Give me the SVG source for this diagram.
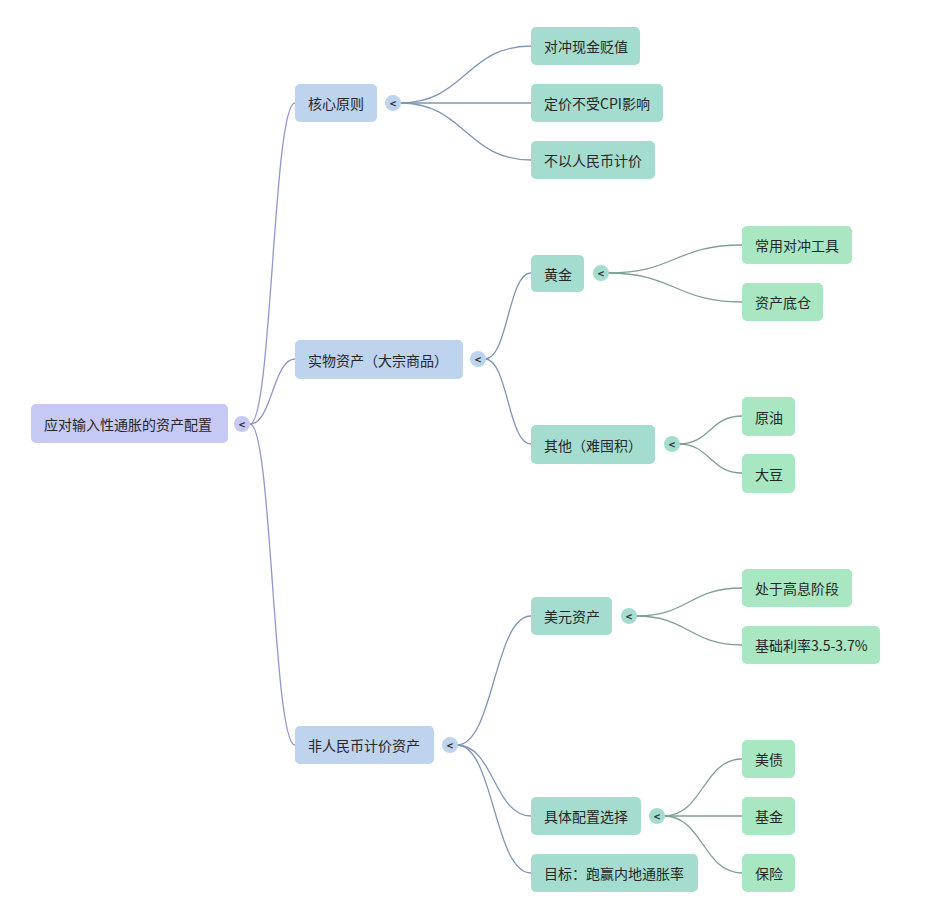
<svg xmlns="http://www.w3.org/2000/svg" width="931" height="907" viewBox="0 0 931 907">
<style>
text{font-family:"Noto Sans CJK SC","Noto Sans",sans-serif;font-size:14px;fill:#262626;dominant-baseline:central}
.root rect{fill:#c6c9f4}
.l1 rect{fill:#bdd3ee}
.l2 rect{fill:#a4ddcf}
.l3 rect{fill:#a9e6c2}
.c0{fill:#c6c9f4}
.c1{fill:#bdd3ee}
.c2{fill:#a4ddcf}
.tg{font-size:11px;font-weight:bold;text-anchor:middle;fill:#333}
#connectors path{fill:none;stroke-width:1.3}
.e0{stroke:#9096cf}
.e1{stroke:#7d97b5}
.e2{stroke:#7f9f96}
</style>
<rect width="931" height="907" fill="#ffffff"/>
<g id="connectors">
<path class="e0" d="M250,424 C272,424 273,103 295,103"/>
<path class="e0" d="M250,424 C272,424 273,359 295,359"/>
<path class="e0" d="M250,424 C272,424 273,745 295,745"/>
<path class="e1" d="M400,103 C465,103 466,46 531,46"/>
<path class="e1" d="M400,103 L531,103"/>
<path class="e1" d="M400,103 C465,103 466,160 531,160"/>
<path class="e1" d="M485,359 C508,359 508,273 531,273"/>
<path class="e1" d="M485,359 C508,359 508,444 531,444"/>
<path class="e1" d="M457,745 C494,745 494,616 531,616"/>
<path class="e1" d="M457,745 C494,745 494,816 531,816"/>
<path class="e1" d="M457,745 C494,745 494,873 531,873"/>
<path class="e2" d="M608,273 C675,273 675,245 742,245"/>
<path class="e2" d="M608,273 C675,273 675,302 742,302"/>
<path class="e2" d="M679,444 C710,444 710,416 742,416"/>
<path class="e2" d="M679,444 C710,444 710,473 742,473"/>
<path class="e2" d="M636,616 C689,616 689,588 742,588"/>
<path class="e2" d="M636,616 C689,616 689,645 742,645"/>
<path class="e2" d="M664,816 C703,816 703,759 742,759"/>
<path class="e2" d="M664,816 L742,816"/>
<path class="e2" d="M664,816 C703,816 703,873 742,873"/>
</g>
<g id="root" class="root"><rect x="31" y="404" width="197" height="39" rx="5"/><text x="44" y="423.5">应对输入性通胀的资产配置</text></g>
<g id="root-toggle"><circle class="c0" cx="242" cy="424" r="8"/><text class="tg" x="242" y="424">&lt;</text></g>
<g id="n-core" class="l1"><rect x="295" y="84" width="82" height="38" rx="5"/><text x="308" y="103">核心原则</text></g>
<g id="n-core-toggle"><circle class="c1" cx="393" cy="103" r="8"/><text class="tg" x="393" y="103">&lt;</text></g>
<g id="n-phys" class="l1"><rect x="295" y="340" width="168" height="39" rx="5"/><text x="308" y="359.5">实物资产（大宗商品）</text></g>
<g id="n-phys-toggle"><circle class="c1" cx="478" cy="359" r="8"/><text class="tg" x="478" y="359">&lt;</text></g>
<g id="n-nonrmb" class="l1"><rect x="295" y="726" width="139" height="38" rx="5"/><text x="308" y="745">非人民币计价资产</text></g>
<g id="n-nonrmb-toggle"><circle class="c1" cx="450" cy="745" r="8"/><text class="tg" x="450" y="745">&lt;</text></g>
<g id="n-hedge" class="l2"><rect x="531" y="27" width="109" height="38" rx="5"/><text x="544" y="46">对冲现金贬值</text></g>
<g id="n-cpi" class="l2"><rect x="531" y="84" width="132" height="38" rx="5"/><text x="544" y="103">定价不受CPI影响</text></g>
<g id="n-notrmb" class="l2"><rect x="531" y="141" width="124" height="38" rx="5"/><text x="544" y="160">不以人民币计价</text></g>
<g id="n-gold" class="l2"><rect x="531" y="255" width="53" height="37" rx="5"/><text x="544" y="273.5">黄金</text></g>
<g id="n-gold-toggle"><circle class="c2" cx="601" cy="273" r="8"/><text class="tg" x="601" y="273">&lt;</text></g>
<g id="n-other" class="l2"><rect x="531" y="425" width="124" height="39" rx="5"/><text x="544" y="444.5">其他（难囤积）</text></g>
<g id="n-other-toggle"><circle class="c2" cx="672" cy="444" r="8"/><text class="tg" x="672" y="444">&lt;</text></g>
<g id="n-usd" class="l2"><rect x="531" y="597" width="81" height="38" rx="5"/><text x="544" y="616">美元资产</text></g>
<g id="n-usd-toggle"><circle class="c2" cx="629" cy="616" r="8"/><text class="tg" x="629" y="616">&lt;</text></g>
<g id="n-choice" class="l2"><rect x="531" y="797" width="110" height="38" rx="5"/><text x="544" y="816">具体配置选择</text></g>
<g id="n-choice-toggle"><circle class="c2" cx="657" cy="816" r="8"/><text class="tg" x="657" y="816">&lt;</text></g>
<g id="n-goal" class="l2"><rect x="531" y="854" width="167" height="38" rx="5"/><text x="544" y="873">目标：跑赢内地通胀率</text></g>
<g id="n-tool" class="l3"><rect x="742" y="226" width="110" height="38" rx="5"/><text x="755" y="245">常用对冲工具</text></g>
<g id="n-base" class="l3"><rect x="742" y="283" width="81" height="38" rx="5"/><text x="755" y="302">资产底仓</text></g>
<g id="n-oil" class="l3"><rect x="742" y="397" width="53" height="39" rx="5"/><text x="755" y="416.5">原油</text></g>
<g id="n-soy" class="l3"><rect x="742" y="454" width="53" height="39" rx="5"/><text x="755" y="473.5">大豆</text></g>
<g id="n-high" class="l3"><rect x="742" y="569" width="110" height="38" rx="5"/><text x="755" y="588">处于高息阶段</text></g>
<g id="n-rate" class="l3"><rect x="742" y="626" width="138" height="38" rx="5"/><text x="755" y="645">基础利率3.5-3.7%</text></g>
<g id="n-ust" class="l3"><rect x="742" y="740" width="53" height="38" rx="5"/><text x="755" y="759">美债</text></g>
<g id="n-fund" class="l3"><rect x="742" y="797" width="53" height="38" rx="5"/><text x="755" y="816">基金</text></g>
<g id="n-ins" class="l3"><rect x="742" y="854" width="53" height="38" rx="5"/><text x="755" y="873">保险</text></g>
</svg>
